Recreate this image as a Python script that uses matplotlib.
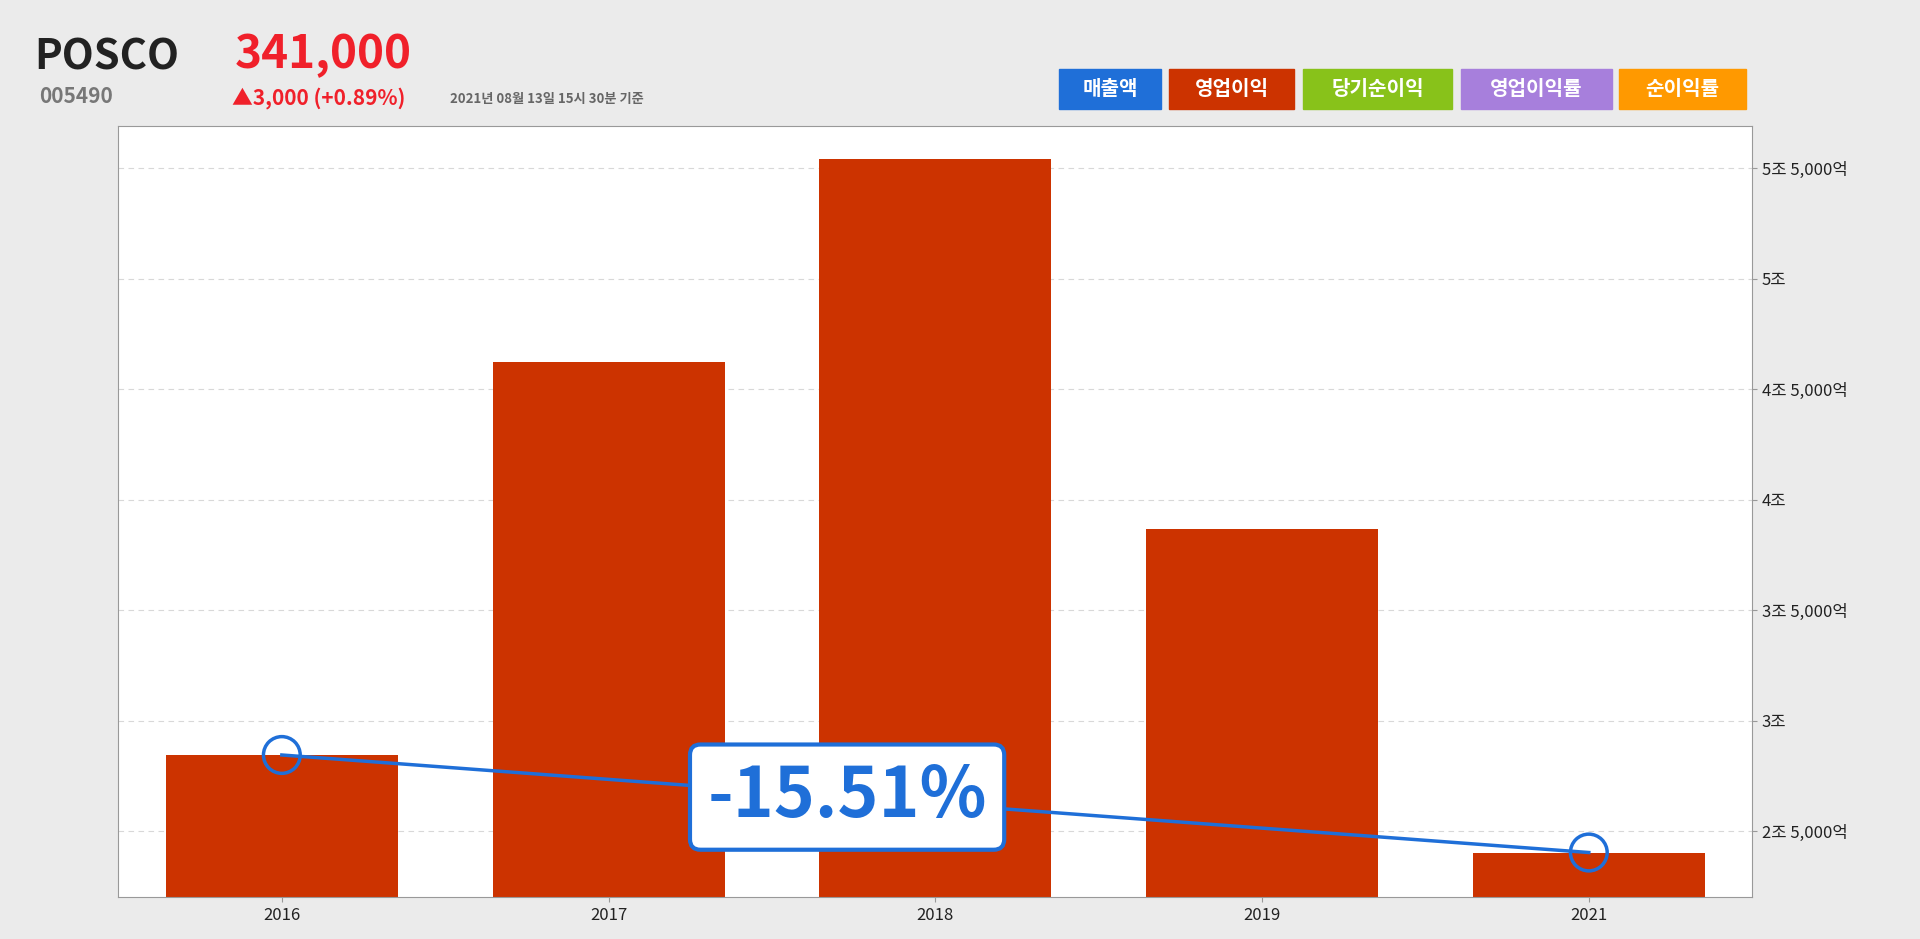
import matplotlib
matplotlib.use("Agg")
import matplotlib.pyplot as plt
from matplotlib.patches import FancyBboxPatch

plt.rcParams["font.family"] = "Noto Sans CJK KR"

years = ["2016", "2017", "2018", "2019", "2021"]
op_profit = [28443, 46218, 55426, 38689, 24030]  # 억
line_years = ["2016", "2021"]
line_vals = [28443, 24030]
tick_vals = [25000, 30000, 35000, 40000, 45000, 50000, 55000]
tick_labels = ["2조 5,000억", "3조", "3조 5,000억", "4조", "4조 5,000억", "5조", "5조 5,000억"]
legend_items = ["매출액", "영업이익", "당기순이익", "영업이익률", "순이익률"]
legend_colors = ["#1f6fd8", "#cc3300", "#88c21a", "#a77fdc", "#ff9900"]

W, H = 1556, 767
fig = plt.figure(figsize=(19.2, 9.39), dpi=100, facecolor="#ebebeb")
def fx(x): return x / W
def fy(y): return 1 - y / H

ax = fig.add_axes([fx(96), fy(733), fx(1420) - fx(96), fy(103) - fy(733)])
ax.set_facecolor("white")
x = range(len(years))
ax.bar(x, op_profit, width=0.71, color="#cc3300", zorder=2)
ax.set_xlim(-0.5, len(years) - 0.5)
ax.set_ylim(22000, 56900)
ax.set_xticks(list(x))
ax.set_xticklabels(years, fontsize=12)
ax.yaxis.tick_right()
ax.set_yticks(tick_vals)
ax.set_yticklabels(tick_labels, fontsize=12)
ax.grid(axis="y", linestyle=(0, (5, 4)), color="#d8d8d8", zorder=0)
for s in ax.spines.values():
    s.set_color("#999999")
ax.tick_params(colors="#999999", labelcolor="#222222")

lx = [years.index(y) for y in line_years]
ax.plot(lx, line_vals, color="#1f6fd8", lw=2.5, zorder=3)
ax.scatter(lx, line_vals, s=700, facecolors="none", edgecolors="#1f6fd8", linewidths=2.5, zorder=4)

ax.text(2.0 - 0.27, (line_vals[0] + line_vals[1]) / 2 + 300, "-15.51%", fontsize=50, fontweight="bold",
        color="#1f6fd8", ha="center", va="center", zorder=6,
        bbox=dict(boxstyle="round,pad=0.25,rounding_size=0.15", fc="white", ec="#1f6fd8", lw=3))

fig.text(fx(28), fy(47), "POSCO", fontsize=30, fontweight="bold", color="#222222", va="center")
fig.text(fx(190), fy(45), "341,000", fontsize=33, fontweight="bold", color="#f0202a", va="center")
fig.text(fx(32), fy(79), "005490", fontsize=15, fontweight="bold", color="#777777", va="center")
fig.text(fx(188), fy(80), "▲3,000 (+0.89%)", fontsize=15, fontweight="bold", color="#f0202a", va="center")
fig.text(fx(365), fy(81), "2021년 08월 13일 15시 30분 기준", fontsize=9.5, fontweight="bold", color="#666666", va="center")

boxes = [(858, 941), (947, 1049), (1056, 1177), (1184, 1306), (1312, 1415)]
for (x0, x1), lab, c in zip(boxes, legend_items, legend_colors):
    fig.patches.append(plt.Rectangle((fx(x0), fy(89)), fx(x1) - fx(x0), fy(56) - fy(89),
                                     transform=fig.transFigure, color=c))
    fig.text((fx(x0) + fx(x1)) / 2, fy(72.5), lab, fontsize=14.5, fontweight="bold",
             color="white", ha="center", va="center")

fig.savefig("out.png", dpi=100, facecolor=fig.get_facecolor())
